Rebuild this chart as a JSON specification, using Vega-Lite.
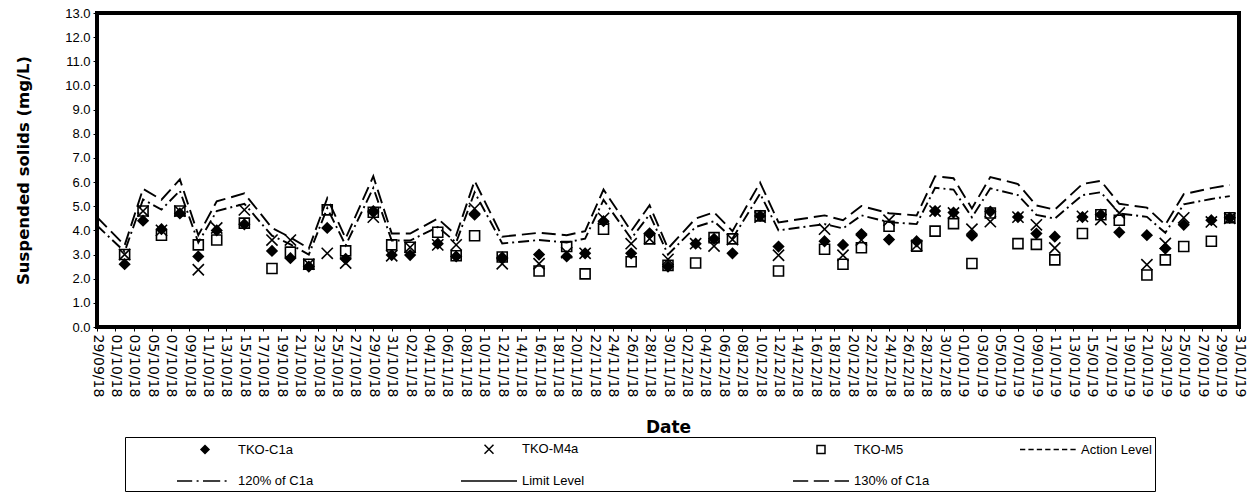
{
  "$schema": "https://vega.github.io/schema/vega-lite/v6.json",
  "width": 1142,
  "height": 314,
  "autosize": {"type": "none"},
  "padding": {"left": 97, "top": 13, "right": 16, "bottom": 176},
  "background": "white",
  "config": {
    "font": "Liberation Sans",
    "view": {"stroke": "black", "strokeWidth": 4},
    "axis": {"grid": false, "domain": false, "tickColor": "black", "labelColor": "black", "titleColor": "black"},
    "axisX": {"labelOverlap": false}
  },
  "data": {
    "values": [
      {"d": "2018-09-29", "120% of C1a": 4.2, "130% of C1a": 4.55, "Action Level": 4.9, "Limit Level": 5.2},
      {"d": "2018-10-02", "TKO-C1a": 2.6, "TKO-M4a": 3.0, "TKO-M5": 3.0, "120% of C1a": 3.12, "130% of C1a": 3.38},
      {"d": "2018-10-04", "TKO-C1a": 4.4, "TKO-M4a": 4.8, "TKO-M5": 4.8, "120% of C1a": 5.28, "130% of C1a": 5.72},
      {"d": "2018-10-06", "TKO-C1a": 4.05, "TKO-M4a": 4.0, "TKO-M5": 3.8, "120% of C1a": 4.86, "130% of C1a": 5.27},
      {"d": "2018-10-08", "TKO-C1a": 4.7, "TKO-M4a": 4.8, "TKO-M5": 4.8, "120% of C1a": 5.64, "130% of C1a": 6.11},
      {"d": "2018-10-10", "TKO-C1a": 2.92, "TKO-M4a": 2.37, "TKO-M5": 3.4, "120% of C1a": 3.5, "130% of C1a": 3.8},
      {"d": "2018-10-12", "TKO-C1a": 4.0, "TKO-M4a": 4.1, "TKO-M5": 3.6, "120% of C1a": 4.8, "130% of C1a": 5.2},
      {"d": "2018-10-15", "TKO-C1a": 4.25, "TKO-M4a": 4.85, "TKO-M5": 4.3, "120% of C1a": 5.1, "130% of C1a": 5.53},
      {"d": "2018-10-18", "TKO-C1a": 3.15, "TKO-M4a": 3.6, "TKO-M5": 2.42, "120% of C1a": 3.78, "130% of C1a": 4.1},
      {"d": "2018-10-20", "TKO-C1a": 2.85, "TKO-M4a": 3.6, "TKO-M5": 3.1, "120% of C1a": 3.42, "130% of C1a": 3.71},
      {"d": "2018-10-22", "TKO-C1a": 2.5, "TKO-M4a": 2.6, "TKO-M5": 2.6, "120% of C1a": 3.0, "130% of C1a": 3.25},
      {"d": "2018-10-24", "TKO-C1a": 4.1, "TKO-M4a": 3.05, "TKO-M5": 4.85, "120% of C1a": 4.92, "130% of C1a": 5.33},
      {"d": "2018-10-26", "TKO-C1a": 2.82, "TKO-M4a": 2.65, "TKO-M5": 3.15, "120% of C1a": 3.38, "130% of C1a": 3.67},
      {"d": "2018-10-29", "TKO-C1a": 4.8, "TKO-M4a": 4.55, "TKO-M5": 4.75, "120% of C1a": 5.76, "130% of C1a": 6.24},
      {"d": "2018-10-31", "TKO-C1a": 2.98, "TKO-M4a": 2.95, "TKO-M5": 3.4, "120% of C1a": 3.58, "130% of C1a": 3.87},
      {"d": "2018-11-02", "TKO-C1a": 2.98, "TKO-M4a": 3.3, "TKO-M5": 3.3, "120% of C1a": 3.58, "130% of C1a": 3.87},
      {"d": "2018-11-05", "TKO-C1a": 3.45, "TKO-M4a": 3.4, "TKO-M5": 3.92, "120% of C1a": 4.14, "130% of C1a": 4.49},
      {"d": "2018-11-07", "TKO-C1a": 2.92, "TKO-M4a": 3.4, "TKO-M5": 2.95, "120% of C1a": 3.5, "130% of C1a": 3.8},
      {"d": "2018-11-09", "TKO-C1a": 4.65, "TKO-M4a": 4.9, "TKO-M5": 3.78, "120% of C1a": 5.58, "130% of C1a": 6.05},
      {"d": "2018-11-12", "TKO-C1a": 2.88, "TKO-M4a": 2.62, "TKO-M5": 2.9, "120% of C1a": 3.46, "130% of C1a": 3.74},
      {"d": "2018-11-16", "TKO-C1a": 3.0, "TKO-M4a": 2.62, "TKO-M5": 2.32, "120% of C1a": 3.6, "130% of C1a": 3.9},
      {"d": "2018-11-19", "TKO-C1a": 2.92, "TKO-M4a": 3.08, "TKO-M5": 3.33, "120% of C1a": 3.5, "130% of C1a": 3.8},
      {"d": "2018-11-21", "TKO-C1a": 3.05, "TKO-M4a": 3.05, "TKO-M5": 2.2, "120% of C1a": 3.66, "130% of C1a": 3.97},
      {"d": "2018-11-23", "TKO-C1a": 4.38, "TKO-M4a": 4.5, "TKO-M5": 4.05, "120% of C1a": 5.26, "130% of C1a": 5.69},
      {"d": "2018-11-26", "TKO-C1a": 3.05, "TKO-M4a": 3.45, "TKO-M5": 2.7, "120% of C1a": 3.66, "130% of C1a": 3.97},
      {"d": "2018-11-28", "TKO-C1a": 3.88, "TKO-M4a": 3.65, "TKO-M5": 3.65, "120% of C1a": 4.66, "130% of C1a": 5.04},
      {"d": "2018-11-30", "TKO-C1a": 2.5, "TKO-M4a": 2.8, "TKO-M5": 2.55, "120% of C1a": 3.0, "130% of C1a": 3.25},
      {"d": "2018-12-03", "TKO-C1a": 3.45, "TKO-M4a": 3.45, "TKO-M5": 2.65, "120% of C1a": 4.14, "130% of C1a": 4.49},
      {"d": "2018-12-05", "TKO-C1a": 3.65, "TKO-M4a": 3.35, "TKO-M5": 3.7, "120% of C1a": 4.38, "130% of C1a": 4.75},
      {"d": "2018-12-07", "TKO-C1a": 3.05, "TKO-M4a": 3.62, "TKO-M5": 3.65, "120% of C1a": 3.66, "130% of C1a": 3.97},
      {"d": "2018-12-10", "TKO-C1a": 4.6, "TKO-M4a": 4.55, "TKO-M5": 4.6, "120% of C1a": 5.52, "130% of C1a": 5.98},
      {"d": "2018-12-12", "TKO-C1a": 3.33, "TKO-M4a": 2.97, "TKO-M5": 2.32, "120% of C1a": 4.0, "130% of C1a": 4.33},
      {"d": "2018-12-17", "TKO-C1a": 3.55, "TKO-M4a": 4.05, "TKO-M5": 3.22, "120% of C1a": 4.26, "130% of C1a": 4.62},
      {"d": "2018-12-19", "TKO-C1a": 3.4, "TKO-M4a": 2.97, "TKO-M5": 2.6, "120% of C1a": 4.08, "130% of C1a": 4.42},
      {"d": "2018-12-21", "TKO-C1a": 3.85, "TKO-M4a": 3.6, "TKO-M5": 3.28, "120% of C1a": 4.62, "130% of C1a": 5.01},
      {"d": "2018-12-24", "TKO-C1a": 3.62, "TKO-M4a": 4.42, "TKO-M5": 4.17, "120% of C1a": 4.34, "130% of C1a": 4.71},
      {"d": "2018-12-27", "TKO-C1a": 3.55, "TKO-M4a": 3.38, "TKO-M5": 3.35, "120% of C1a": 4.26, "130% of C1a": 4.62},
      {"d": "2018-12-29", "TKO-C1a": 4.8, "TKO-M4a": 4.8, "TKO-M5": 3.97, "120% of C1a": 5.76, "130% of C1a": 6.24},
      {"d": "2018-12-31", "TKO-C1a": 4.74, "TKO-M4a": 4.72, "TKO-M5": 4.28, "120% of C1a": 5.69, "130% of C1a": 6.16},
      {"d": "2019-01-02", "TKO-C1a": 3.78, "TKO-M4a": 4.05, "TKO-M5": 2.63, "120% of C1a": 4.54, "130% of C1a": 4.91},
      {"d": "2019-01-04", "TKO-C1a": 4.78, "TKO-M4a": 4.36, "TKO-M5": 4.72, "120% of C1a": 5.74, "130% of C1a": 6.21},
      {"d": "2019-01-07", "TKO-C1a": 4.55, "TKO-M4a": 4.55, "TKO-M5": 3.45, "120% of C1a": 5.46, "130% of C1a": 5.92},
      {"d": "2019-01-09", "TKO-C1a": 3.87, "TKO-M4a": 4.23, "TKO-M5": 3.42, "120% of C1a": 4.64, "130% of C1a": 5.03},
      {"d": "2019-01-11", "TKO-C1a": 3.74, "TKO-M4a": 3.27, "TKO-M5": 2.78, "120% of C1a": 4.49, "130% of C1a": 4.86},
      {"d": "2019-01-14", "TKO-C1a": 4.55, "TKO-M4a": 4.58, "TKO-M5": 3.87, "120% of C1a": 5.46, "130% of C1a": 5.92},
      {"d": "2019-01-16", "TKO-C1a": 4.65, "TKO-M4a": 4.45, "TKO-M5": 4.65, "120% of C1a": 5.58, "130% of C1a": 6.05},
      {"d": "2019-01-18", "TKO-C1a": 3.92, "TKO-M4a": 4.72, "TKO-M5": 4.42, "120% of C1a": 4.7, "130% of C1a": 5.1},
      {"d": "2019-01-21", "TKO-C1a": 3.8, "TKO-M4a": 2.58, "TKO-M5": 2.15, "120% of C1a": 4.56, "130% of C1a": 4.94},
      {"d": "2019-01-23", "TKO-C1a": 3.25, "TKO-M4a": 3.46, "TKO-M5": 2.78, "120% of C1a": 3.9, "130% of C1a": 4.23},
      {"d": "2019-01-25", "TKO-C1a": 4.23, "TKO-M4a": 4.52, "TKO-M5": 3.33, "120% of C1a": 5.08, "130% of C1a": 5.5},
      {"d": "2019-01-28", "TKO-C1a": 4.42, "TKO-M4a": 4.35, "TKO-M5": 3.55, "120% of C1a": 5.3, "130% of C1a": 5.75},
      {"d": "2019-01-30", "TKO-C1a": 4.52, "TKO-M4a": 4.5, "TKO-M5": 4.52, "120% of C1a": 5.42, "130% of C1a": 5.88},
      {"d": "2019-01-31", "Action Level": 4.9, "Limit Level": 5.2}
    ]
  },
  "encoding": {
    "x": {
      "field": "d", "type": "temporal",
      "scale": {"type": "utc", "domain": [{"year": 2018, "month": "sep", "date": 29, "utc": true}, {"year": 2019, "month": "jan", "date": 31, "utc": true}]},
      "axis": {
        "title": "Date",
        "titleFont": "DejaVu Sans",
        "titleFontSize": 17,
        "titleFontWeight": "bold",
        "titlePadding": 23,
        "values": [1538179200000, 1538352000000, 1538524800000, 1538697600000, 1538870400000, 1539043200000, 1539216000000, 1539388800000, 1539561600000, 1539734400000, 1539907200000, 1540080000000, 1540252800000, 1540425600000, 1540598400000, 1540771200000, 1540944000000, 1541116800000, 1541289600000, 1541462400000, 1541635200000, 1541808000000, 1541980800000, 1542153600000, 1542326400000, 1542499200000, 1542672000000, 1542844800000, 1543017600000, 1543190400000, 1543363200000, 1543536000000, 1543708800000, 1543881600000, 1544054400000, 1544227200000, 1544400000000, 1544572800000, 1544745600000, 1544918400000, 1545091200000, 1545264000000, 1545436800000, 1545609600000, 1545782400000, 1545955200000, 1546128000000, 1546300800000, 1546473600000, 1546646400000, 1546819200000, 1546992000000, 1547164800000, 1547337600000, 1547510400000, 1547683200000, 1547856000000, 1548028800000, 1548201600000, 1548374400000, 1548547200000, 1548720000000, 1548892800000],
        "labelExpr": "utcFormat(datum.value, '%d/%m/%y')",
        "labelFont": "DejaVu Sans",
        "labelAngle": 90,
        "labelAlign": "left",
        "labelBaseline": "middle",
        "labelFontSize": 14,
        "labelPadding": 3,
        "labelOverlap": false,
        "labelSeparation": 0,
        "labelFlush": false,
        "labelBound": false,
        "tickSize": 4,
        "tickWidth": 1
      }
    },
    "y": {
      "field": "v",
      "type": "quantitative",
      "scale": {"domain": [0, 13], "nice": false, "zero": true},
      "axis": {
        "title": "Suspended solids (mg/L)",
        "titleFont": "DejaVu Sans",
        "titleFontSize": 16.5,
        "titleFontWeight": "bold",
        "titlePadding": 33,
        "values": [0, 1, 2, 3, 4, 5, 6, 7, 8, 9, 10, 11, 12, 13],
        "format": ".1f",
        "labelFont": "Liberation Sans",
        "labelFontSize": 13,
        "labelPadding": 3,
        "tickSize": 4,
        "tickWidth": 1
      }
    }
  },
  "layer": [
    {
      "transform": [{"fold": ["Action Level", "Limit Level", "120% of C1a", "130% of C1a"], "as": ["series", "v"]}],
      "mark": {"type": "line", "color": "black"},
      "encoding": {
        "strokeDash": {
          "field": "series", "type": "nominal", "legend": null,
          "scale": {
            "domain": ["120% of C1a", "130% of C1a", "Action Level", "Limit Level"],
            "range": [[11, 4, 2, 4], [14, 6], [6, 1], [1, 0]]
          }
        },
        "strokeWidth": {
          "field": "series", "type": "nominal", "legend": null,
          "scale": {
            "domain": ["120% of C1a", "130% of C1a", "Action Level", "Limit Level"],
            "range": [1.9, 1.9, 1.5, 1.5]
          }
        }
      }
    },
    {
      "transform": [{"fold": ["TKO-C1a", "TKO-M4a", "TKO-M5"], "as": ["series", "v"]}],
      "mark": {"type": "point", "stroke": "black", "strokeWidth": 1.6, "opacity": 1, "size": 400},
      "encoding": {
        "fill": {"condition": {"test": "datum.series === 'TKO-C1a'", "value": "black"}, "value": "transparent"},
        "shape": {
          "field": "series", "type": "nominal",
          "scale": {
            "domain": ["TKO-C1a", "TKO-M4a", "TKO-M5", "Action Level", "120% of C1a", "Limit Level", "130% of C1a"],
            "range": [
              "M-9.6,0M22.6,0M0,-0.5L0.5,0L0,0.5L-0.5,0ZM0,-0.36L0.36,0L0,0.36L-0.36,0ZM0,-0.22L0.22,0L0,0.22L-0.22,0ZM0,-0.08L0.08,0L0,0.08L-0.08,0Z",
              "M-9.6,0M28.6,0M-0.56,-0.56L0.56,0.56M-0.56,0.56L0.56,-0.56",
              "M-9.6,0M15.5,0M-0.5,-0.5H0.5V0.5H-0.5Z",
              "M-9.6,0M-3.5,0H-2.84M-2.45,0H-1.79M-1.4,0H-0.74M-0.35,0H0.31M0.7,0H1.36M1.75,0H2.41M2.8,0H3.46",
              "M-9.6,0M22.6,0M-3.5,0H-1.6M-1.05,0H-0.8M-0.25,0H1.9M2.45,0H2.7",
              "M-9.6,0M28.6,0M-3.5,0H3.5",
              "M-9.6,0M15.5,0M-3.5,0H-1.6M-0.9,0H1.0M1.7,0H3.5"
            ]
          },
          "legend": {
            "title": null,
            "orient": "none",
            "legendX": 28,
            "legendY": 424,
            "direction": "horizontal",
            "columns": 4,
            "gridAlign": "each",
            "columnPadding": 20,
            "rowPadding": 15,
            "padding": 3,
            "strokeColor": "black",
            "fillColor": "white",
            "symbolSize": 256,
            "symbolStrokeWidth": 1.5,
            "symbolStrokeColor": "black",
            "symbolFillColor": "transparent",
            "symbolOpacity": 1,
            "symbolOffset": 68,
            "labelFont": "Liberation Sans",
            "labelFontSize": 13,
            "labelColor": "black",
            "labelOffset": 24,
            "labelLimit": 200
          }
        }
      }
    }
  ]
}
